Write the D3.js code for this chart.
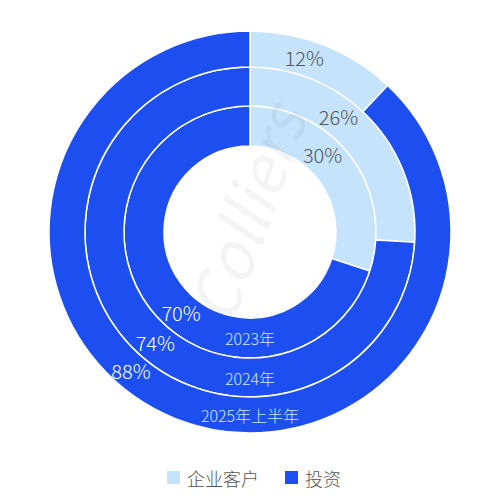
<!DOCTYPE html>
<html><head><meta charset="utf-8">
<script src="https://cdn.jsdelivr.net/npm/d3@7"></script>
<style>body{margin:0;background:#fff}text{font-family:"Noto Sans CJK SC","Noto Sans",sans-serif}</style>
</head><body><div id="chart"></div>
<script>
// rings from inside out
var years = ["2023年", "2024年", "2025年上半年"];
var corporate = [30, 26, 12];
var investment = [70, 74, 88];
var seriesNames = ["企业客户", "投资"];
var colors = ["#c5e3fb", "#1d4ff0"];

var width = 500, height = 500;
var cx = 250, cy = 232;
var svg = d3.select("#chart").append("svg").attr("width", width).attr("height", height);
var g = svg.append("g").attr("transform", `translate(${cx}, ${cy})`);

// ring radii (inner, outer)
var radii = [[86, 126], [126, 165], [165, 201]];
var pie = d3.pie().sort(null);

years.forEach(function(yr, i) {
  var vals = [corporate[i], investment[i]];
  var arcs = pie(vals);
  var arc = d3.arc().innerRadius(radii[i][0]).outerRadius(radii[i][1]);
  g.selectAll(".ring" + i).data(arcs).enter().append("path")
    .attr("d", arc)
    .attr("fill", (d, j) => colors[j])
    .attr("stroke", "#fff").attr("stroke-width", 1.5);

  var rMid = (radii[i][0] + radii[i][1]) / 2;
  arcs.forEach(function(d, j) {
    var a = j == 0 ? (d.startAngle + d.endAngle) / 2 * 0.8 : 3.85;
    g.append("text")
      .attr("x", Math.sin(a) * rMid).attr("y", -Math.cos(a) * rMid)
      .attr("text-anchor", "middle").attr("dominant-baseline", "central")
      .attr("font-size", 20).attr("font-weight", 300)
      .attr("fill", j == 0 ? "#555" : "#fff")
      .text(vals[j] + "%");
  });

  g.append("text")
    .attr("x", 0).attr("y", rMid)
    .attr("text-anchor", "middle").attr("dominant-baseline", "central")
    .attr("font-size", 16).attr("font-weight", 300).attr("fill", "#cfe6fb")
    .text(yr);
});

// faint watermark
g.append("text").attr("x", 20).attr("y", -10)
  .attr("transform", "rotate(-70, 20, -10)")
  .attr("text-anchor", "middle").attr("font-size", 64).attr("font-style", "italic")
  .attr("fill", "#000").attr("opacity", 0.04).text("Colliers");

// legend
var legend = svg.append("g").attr("transform", "translate(167, 478)");
var lx = [0, 118];
seriesNames.forEach(function(n, i) {
  legend.append("rect").attr("x", lx[i]).attr("y", -7).attr("width", 13).attr("height", 13).attr("fill", colors[i]);
  legend.append("text").attr("x", lx[i] + 20).attr("y", 0).attr("dominant-baseline", "central")
    .attr("font-size", 18).attr("font-weight", 300).attr("fill", "#555").text(n);
});
</script></body></html>
